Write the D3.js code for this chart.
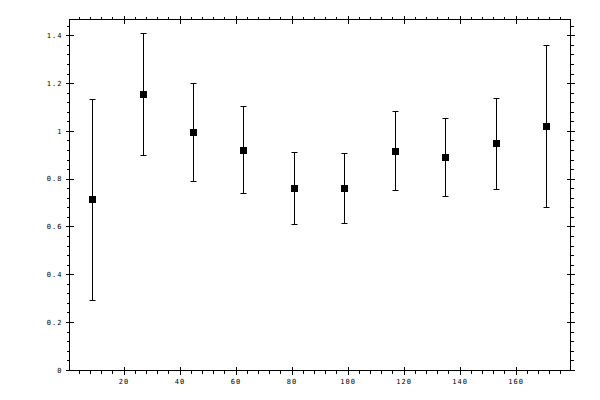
<!DOCTYPE html>
<html>
<head>
<meta charset="utf-8">
<script src="https://cdn.jsdelivr.net/npm/d3@7"></script>
<style>
  html, body { margin: 0; padding: 0; background: #fff; }
  svg { display: block; }
  .axis path, .axis line { stroke: #000; stroke-width: 1; shape-rendering: crispEdges; }
  .axis text { font-family: "DejaVu Sans Mono", monospace; font-size: 7px; letter-spacing: 1px; fill: #000; }
</style>
</head>
<body>
<svg id="chart" width="600" height="400"></svg>
<script>
// data
const xValues = [9, 27, 45, 63, 81, 99, 117, 135, 153, 171];
const yValues = [0.712, 1.152, 0.992, 0.917, 0.758, 0.758, 0.913, 0.888, 0.946, 1.018];
const yUpper = [1.131, 1.407, 1.198, 1.103, 0.911, 0.904, 1.079, 1.050, 1.135, 1.357];
const yLower = [0.289, 0.896, 0.787, 0.737, 0.607, 0.611, 0.750, 0.725, 0.754, 0.678];

const xMajor = [20, 40, 60, 80, 100, 120, 140, 160];
const xMinor = d3.range(4, 180, 4).filter(v => v % 20 !== 0);
const yMajor = [0, 0.2, 0.4, 0.6, 0.8, 1, 1.2, 1.4];
const yMinor = d3.range(0.04, 1.46, 0.04).filter(v => Math.abs(v / 0.2 - Math.round(v / 0.2)) > 1e-6);

const plotLeft = 69.5, plotRight = 570.5, plotTop = 19.5, plotBottom = 370.5;

const x = d3.scaleLinear([0.7, 179.6], [plotLeft, plotRight]);
const y = d3.scaleLinear([-0.003, 1.466], [plotBottom, plotTop]);

const svg = d3.select('#chart');

const fmt = d3.format('~g');
// snap to the pixel centre so 1px strokes stay sharp
const px = v => Math.round(v - 0.5) + 0.5;

// frame
svg.append('rect')
  .attr('x', plotLeft).attr('y', plotTop)
  .attr('width', plotRight - plotLeft).attr('height', plotBottom - plotTop)
  .attr('fill', 'none').attr('stroke', '#000');

function axisGroup(transform) {
  return svg.append('g').attr('class', 'axis').attr('transform', transform);
}

function stripDomain(g) {
  g.select('.domain').remove();
}

// bottom axis: labels + crossing majors + outward minors
axisGroup(`translate(0,${plotBottom})`)
  .call(d3.axisBottom(x).tickValues(xMajor).tickSize(4).tickPadding(5).tickFormat(fmt))
  .call(stripDomain);
axisGroup(`translate(0,${plotBottom})`)
  .call(d3.axisTop(x).tickValues(xMajor).tickSize(4).tickFormat(''))
  .call(stripDomain);
axisGroup(`translate(0,${plotBottom})`)
  .call(d3.axisBottom(x).tickValues(xMinor).tickSize(3).tickFormat(''))
  .call(stripDomain);

// top axis: no labels
axisGroup(`translate(0,${plotTop})`)
  .call(d3.axisTop(x).tickValues(xMajor).tickSize(4).tickFormat(''))
  .call(stripDomain);
axisGroup(`translate(0,${plotTop})`)
  .call(d3.axisBottom(x).tickValues(xMajor).tickSize(4).tickFormat(''))
  .call(stripDomain);
axisGroup(`translate(0,${plotTop})`)
  .call(d3.axisTop(x).tickValues(xMinor).tickSize(3).tickFormat(''))
  .call(stripDomain);

// left axis: labels
axisGroup(`translate(${plotLeft},0)`)
  .call(d3.axisLeft(y).tickValues(yMajor).tickSize(4).tickPadding(3).tickFormat(fmt))
  .call(stripDomain);
axisGroup(`translate(${plotLeft},0)`)
  .call(d3.axisRight(y).tickValues(yMajor).tickSize(4).tickFormat(''))
  .call(stripDomain);
axisGroup(`translate(${plotLeft},0)`)
  .call(d3.axisLeft(y).tickValues(yMinor).tickSize(3).tickFormat(''))
  .call(stripDomain);

// right axis: no labels
axisGroup(`translate(${plotRight},0)`)
  .call(d3.axisRight(y).tickValues(yMajor).tickSize(4).tickFormat(''))
  .call(stripDomain);
axisGroup(`translate(${plotRight},0)`)
  .call(d3.axisLeft(y).tickValues(yMajor).tickSize(4).tickFormat(''))
  .call(stripDomain);
axisGroup(`translate(${plotRight},0)`)
  .call(d3.axisRight(y).tickValues(yMinor).tickSize(3).tickFormat(''))
  .call(stripDomain);

const data = xValues.map((xv, i) => ({ x: xv, y: yValues[i], hi: yUpper[i], lo: yLower[i] }));

// error bars
const bars = svg.append('g')
  .attr('stroke', '#000').attr('stroke-width', 1);

bars.selectAll('line.stem')
  .data(data).join('line')
  .attr('class', 'stem')
  .attr('x1', d => px(x(d.x))).attr('x2', d => px(x(d.x)))
  .attr('y1', d => px(y(d.hi))).attr('y2', d => px(y(d.lo)));

const capW = 3;
bars.selectAll('line.cap-hi')
  .data(data).join('line')
  .attr('class', 'cap-hi')
  .attr('x1', d => px(x(d.x)) - capW).attr('x2', d => px(x(d.x)) + capW)
  .attr('y1', d => px(y(d.hi))).attr('y2', d => px(y(d.hi)));

bars.selectAll('line.cap-lo')
  .data(data).join('line')
  .attr('class', 'cap-lo')
  .attr('x1', d => px(x(d.x)) - capW).attr('x2', d => px(x(d.x)) + capW)
  .attr('y1', d => px(y(d.lo))).attr('y2', d => px(y(d.lo)));

// square markers
const sq = 7;
svg.append('g').selectAll('rect')
  .data(data).join('rect')
  .attr('x', d => px(x(d.x)) - sq / 2)
  .attr('y', d => px(y(d.y)) - sq / 2)
  .attr('width', sq).attr('height', sq)
  .attr('fill', '#000');
</script>
</body>
</html>
